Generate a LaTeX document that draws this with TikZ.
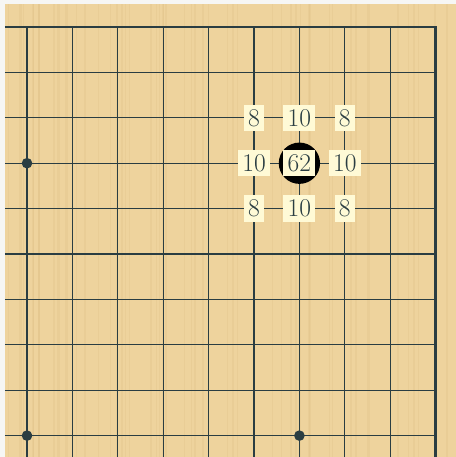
\documentclass[tikz,border=0pt]{standalone}
\usepackage{tikz}
\usetikzlibrary{positioning}
\usepackage{xcolor}
\definecolor{boardwood}{RGB}{238,211,157}
\definecolor{woodgrain}{RGB}{218,186,126}
\definecolor{gridslate}{RGB}{42,61,66}
\definecolor{lblyellow}{RGB}{255,250,214}
\definecolor{pagemargin}{RGB}{246,246,244}

\begin{document}
\begin{tikzpicture}[
  gridline/.style={draw=gridslate,line width=0.75pt},
  edgeline/.style={draw=gridslate,line width=1.7pt},
  grain/.style={draw=woodgrain,opacity=0.22},
  hoshi/.style={circle,fill=gridslate,inner sep=0pt,minimum size=0.234cm},
  stone/.style={circle,fill=black,inner sep=0pt,minimum size=0.91cm},
  lbl/.style={rectangle,fill=lblyellow,text=gridslate,inner xsep=2.7pt,
              inner ysep=2.9pt,font=\fontsize{16}{16}\selectfont}
]
  \useasboundingbox (-0.595,0.595) rectangle (9.449,-9.471);
  % Board
  \fill[pagemargin] (-0.595,0.595) rectangle (9.449,-9.471);
  \fill[boardwood] (-0.485,0.507) rectangle (9.449,-9.471);
  \pgfmathsetseed{7}
  \foreach \s in {1,...,60} {
    \pgfmathsetmacro{\gx}{-0.45+9.85*rnd}
    \pgfmathsetmacro{\gw}{0.2+1.0*rnd}
    \draw[grain,line width=\gw pt] (\gx,0.507) -- (\gx,-9.471);
  }

  % Grid lines
  \foreach \j in {1,...,9} {
    \draw[gridline] (-0.485,-\j) -- (9,-\j);
  }
  \foreach \i in {0,...,8} {
    \draw[gridline] (\i,0) -- (\i,-9.471);
  }
  \draw[edgeline] (-0.485,0) -- (9,0) -- (9,-9.471);

  % Star points
  \foreach \i/\j [count=\k] in {0/3, 0/9, 6/9} {
    \node[hoshi] (hoshi\k) at (\i,-\j) {};
  }

  % Stone and its neighbours
  \node[stone] (stone62) at (6,-3) {};
  \node[lbl] (move62) at (stone62) {62};
  \foreach \i/\j/\n in {5/2/8, 6/2/10, 7/2/8, 5/3/10, 7/3/10, 5/4/8, 6/4/10, 7/4/8} {
    \node[lbl] (val-\i-\j) at (\i,-\j) {\n};
  }
\end{tikzpicture}
\end{document}
